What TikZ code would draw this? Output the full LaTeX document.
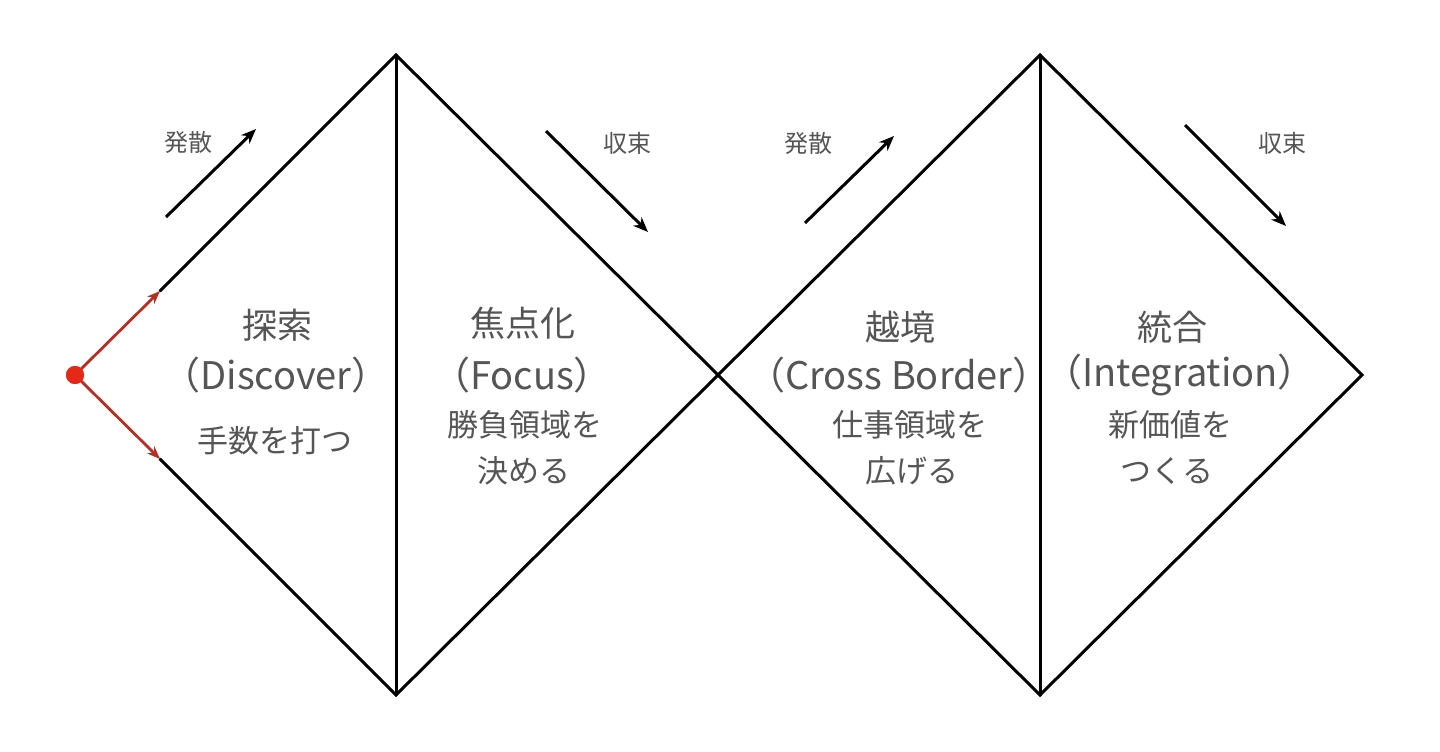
\documentclass[tikz,border=0pt]{standalone}
\usepackage{fontspec}
\setmainfont{Noto Sans CJK JP}
\usetikzlibrary{arrows.meta}
\definecolor{txt}{RGB}{85,85,85}
\definecolor{redline}{RGB}{185,45,35}
\definecolor{reddot}{RGB}{230,40,25}
\tikzset{
  edge/.style={line width=3pt, line cap=round, line join=miter},
  flow/.style={line width=3pt, -{Stealth[length=15pt,width=12pt]}},
  redarrow/.style={line width=2.8pt, redline, -{Stealth[length=13pt,width=10pt]}},
  lbl/.style={text=txt, font=\fontsize{24}{28}\selectfont, inner sep=0pt},
  title/.style={text=txt, font=\fontsize{35}{40}\selectfont, inner sep=0pt},
  eng/.style={text=txt, font=\fontsize{38}{42}\selectfont, inner sep=0pt},
  sub/.style={text=txt, font=\fontsize{31}{34}\selectfont, inner sep=0pt},
}
\begin{document}
\begin{tikzpicture}[x=1pt,y=-1pt]
\useasboundingbox[fill=white] (0,0) rectangle (1440,752);
% key points
\coordinate (T1) at (396,55);
\coordinate (B1) at (396,695);
\coordinate (M) at (718,375);
\coordinate (T2) at (1040,55);
\coordinate (B2) at (1040,695);
\coordinate (R2) at (1362,375);
\coordinate (a1) at (160,291);
\coordinate (a2) at (160,459);
% diamonds
\draw[edge] (a1) -- (T1) -- (M) -- (B1) -- (a2);
\draw[edge] (T1) -- (B1);
\draw[edge] (M) -- (T2) -- (R2) -- (B2) -- cycle;
\draw[edge] (T2) -- (B2);
% start dot and red arrows
\node[circle, fill=reddot, minimum size=18pt, inner sep=0pt] (dot) at (75,375) {};
\draw[redarrow] (dot.center) -- (a1);
\draw[redarrow] (dot.center) -- (a2);
\fill[reddot] (dot) circle (9pt);
% flow arrows
\coordinate (f1s) at (166,217); \coordinate (f1e) at (256,129);
\coordinate (f2s) at (546,131); \coordinate (f2e) at (648,232);
\coordinate (f3s) at (805,223); \coordinate (f3e) at (894,136);
\coordinate (f4s) at (1185,125); \coordinate (f4e) at (1286,226);
\draw[flow] (f1s) -- (f1e);
\draw[flow] (f2s) -- (f2e);
\draw[flow] (f3s) -- (f3e);
\draw[flow] (f4s) -- (f4e);
\node[lbl] (l1) at (188,142) {発散};
\node[lbl] (l2) at (627,143) {収束};
\node[lbl] (l3) at (808,143) {発散};
\node[lbl] (l4) at (1282,143) {収束};
% block 1
\node[title] (t1) at (277,325) {探索};
\node[eng] (e1) at (276,375) {（Discover）};
\node[sub] (s1) at (275,441) {手数を打つ};
% block 2
\node[title] (t2) at (523,323) {焦点化};
\node[eng] (e2) at (522,375) {（Focus）};
\node[sub] (s2a) at (525,425) {勝負領域を};
\node[sub] (s2b) at (524,471) {決める};
% block 3
\node[title] (t3) at (900,327) {越境};
\node[eng] (e3) at (899,375) {（Cross Border）};
\node[sub] (s3a) at (910,425) {仕事領域を};
\node[sub] (s3b) at (912,471) {広げる};
% block 4
\node[title] (t4) at (1172,327) {統合};
\node[eng] (e4) at (1180,375) {（Integration）};
\node[sub] (s4a) at (1170,425) {新価値を};
\node[sub] (s4b) at (1167,471) {つくる};
\end{tikzpicture}
\end{document}
